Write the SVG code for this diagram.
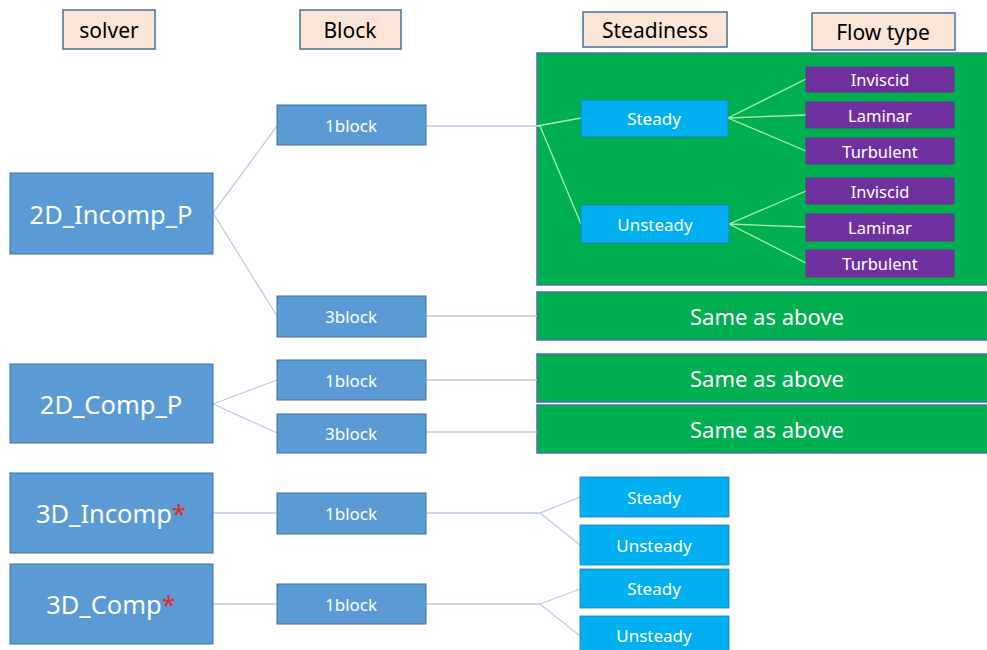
<svg xmlns="http://www.w3.org/2000/svg" width="987" height="650" viewBox="0 0 987 650">
<style>
text{font-family:"Noto Sans","Open Sans","Liberation Sans",sans-serif;text-anchor:middle;dominant-baseline:central}
.hdr rect{fill:#fbe5d6;stroke:#41719c;stroke-width:1.5}
.hdr text{fill:#000;font-size:21px}
.sol rect{fill:#5b9bd5;stroke:#41719c;stroke-width:1}
.sol text{fill:#fff;font-size:25.5px}
.blk rect{fill:#5b9bd5;stroke:#41719c;stroke-width:1}
.blk text{fill:#fff;font-size:17px}
.std rect{fill:#00b0f0;stroke:#2e75b6;stroke-width:0.8}
.std text{fill:#fff;font-size:17px}
.flw rect{fill:#7030a0;stroke:#6a2c96;stroke-width:0.8}
.flw text{fill:#fff;font-size:16.5px}
.grn rect{fill:#00b050;stroke:#4f6fb0;stroke-width:1.5}
.grn text{fill:#fff;font-size:22px}
.c line{fill:none;stroke:#bccbe6;stroke-width:1.3}
.cg line{stroke:#a9f0a9;stroke-width:1.3}
.star{fill:#e8262c}
</style>

<g id="hdr-solver" class="hdr"><rect x="63" y="10" width="92" height="39"/><text x="109" y="30">solver</text></g>
<g id="hdr-block" class="hdr"><rect x="300" y="10" width="101" height="39"/><text x="350" y="30">Block</text></g>
<g id="hdr-steadiness" class="hdr"><rect x="583" y="12" width="144" height="35"/><text x="655" y="30">Steadiness</text></g>
<g id="hdr-flowtype" class="hdr"><rect x="812" y="13" width="143" height="37"/><text x="883" y="32">Flow type</text></g>

<g id="green-main" class="grn"><rect x="537" y="53" width="455" height="232"/></g>
<g id="green-same1" class="grn"><rect x="537" y="292" width="455" height="48"/><text x="767" y="316">Same as above</text></g>
<g id="green-same2" class="grn"><rect x="537" y="354" width="455" height="48"/><text x="767" y="378">Same as above</text></g>
<g id="green-same3" class="grn"><rect x="537" y="405" width="455" height="48"/><text x="767" y="429">Same as above</text></g>

<g id="connectors">
  <g class="c">
    <line x1="213" y1="213" x2="277" y2="126"/>
    <line x1="213" y1="213" x2="277" y2="316"/>
    <line x1="426" y1="126" x2="540" y2="126"/>
    <line x1="426" y1="316" x2="537" y2="316"/>
    <line x1="213" y1="404" x2="277" y2="380"/>
    <line x1="213" y1="404" x2="277" y2="433"/>
    <line x1="426" y1="380" x2="537" y2="380"/>
    <line x1="426" y1="432" x2="537" y2="432"/>
    <line x1="213" y1="513" x2="277" y2="513"/>
    <line x1="426" y1="513" x2="540" y2="513"/>
    <line x1="540" y1="513" x2="580" y2="497"/>
    <line x1="540" y1="513" x2="580" y2="545"/>
    <line x1="213" y1="604" x2="277" y2="604"/>
    <line x1="426" y1="604" x2="540" y2="604"/>
    <line x1="540" y1="604" x2="580" y2="589"/>
    <line x1="540" y1="604" x2="580" y2="636"/>
  </g>
  <g class="cg">
    <line x1="537" y1="126" x2="581" y2="118"/>
    <line x1="540" y1="126" x2="581" y2="224"/>
    <line x1="728" y1="118" x2="806" y2="79"/>
    <line x1="728" y1="118" x2="806" y2="115"/>
    <line x1="728" y1="118" x2="806" y2="151"/>
    <line x1="729" y1="224" x2="806" y2="191"/>
    <line x1="729" y1="224" x2="806" y2="227"/>
    <line x1="729" y1="224" x2="806" y2="263"/>
  </g>
</g>

<g id="s-2d-incomp" class="sol"><rect x="10" y="173" width="203" height="81"/><text x="111" y="214">2D_Incomp_P</text></g>
<g id="s-2d-comp" class="sol"><rect x="10" y="364" width="203" height="79"/><text x="111" y="404">2D_Comp_P</text></g>
<g id="s-3d-incomp" class="sol"><rect x="10" y="473" width="203" height="80"/><text x="111" y="513">3D_Incomp<tspan class="star">*</tspan></text></g>
<g id="s-3d-comp" class="sol"><rect x="10" y="564" width="203" height="80"/><text x="111" y="604">3D_Comp<tspan class="star">*</tspan></text></g>

<g id="b-1" class="blk"><rect x="277" y="105" width="149" height="40"/><text x="351" y="125">1block</text></g>
<g id="b-2" class="blk"><rect x="277" y="296" width="149" height="41"/><text x="351" y="316">3block</text></g>
<g id="b-3" class="blk"><rect x="277" y="360" width="149" height="40"/><text x="351" y="380">1block</text></g>
<g id="b-4" class="blk"><rect x="277" y="414" width="149" height="39"/><text x="351" y="433">3block</text></g>
<g id="b-5" class="blk"><rect x="277" y="493" width="149" height="41"/><text x="351" y="513">1block</text></g>
<g id="b-6" class="blk"><rect x="277" y="584" width="149" height="40"/><text x="351" y="604">1block</text></g>

<g id="st-1" class="std"><rect x="581" y="100" width="147" height="37"/><text x="654" y="118">Steady</text></g>
<g id="st-2" class="std"><rect x="581" y="205" width="148" height="38"/><text x="655" y="224">Unsteady</text></g>
<g id="st-3" class="std"><rect x="580" y="477" width="149" height="40"/><text x="654" y="497">Steady</text></g>
<g id="st-4" class="std"><rect x="580" y="525" width="149" height="40"/><text x="654" y="545">Unsteady</text></g>
<g id="st-5" class="std"><rect x="580" y="569" width="149" height="39"/><text x="654" y="588">Steady</text></g>
<g id="st-6" class="std"><rect x="580" y="616" width="149" height="40"/><text x="654" y="635">Unsteady</text></g>

<g id="f-1" class="flw"><rect x="806" y="67" width="148" height="25"/><text x="880" y="79">Inviscid</text></g>
<g id="f-2" class="flw"><rect x="806" y="102" width="148" height="26"/><text x="880" y="115">Laminar</text></g>
<g id="f-3" class="flw"><rect x="806" y="138" width="148" height="26"/><text x="880" y="151">Turbulent</text></g>
<g id="f-4" class="flw"><rect x="806" y="178" width="148" height="26"/><text x="880" y="191">Inviscid</text></g>
<g id="f-5" class="flw"><rect x="806" y="214" width="148" height="27"/><text x="880" y="227">Laminar</text></g>
<g id="f-6" class="flw"><rect x="806" y="250" width="148" height="27"/><text x="880" y="263">Turbulent</text></g>
</svg>
